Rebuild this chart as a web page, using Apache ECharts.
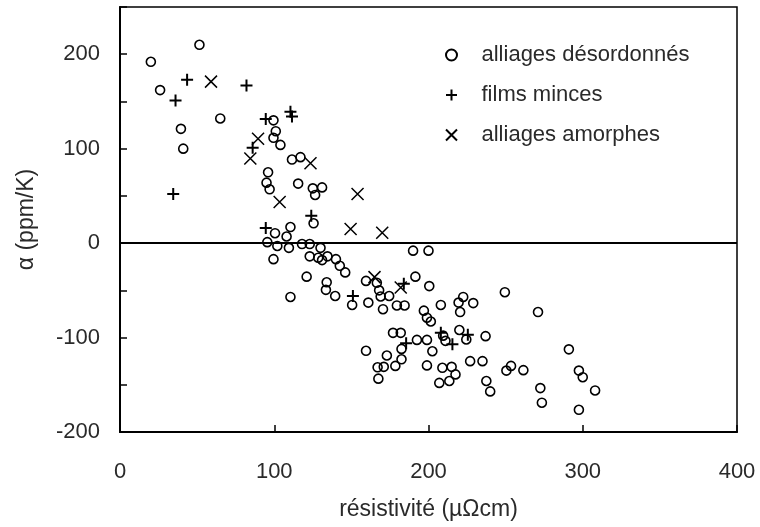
<!DOCTYPE html>
<html>
<head>
<meta charset="utf-8">
<script src="https://cdn.jsdelivr.net/npm/echarts@6/dist/echarts.min.js"></script>
<style>html,body{margin:0;padding:0;background:#fff;}#c{width:760px;height:527px;}</style>
</head>
<body>
<div id="c"></div>
<script>
// Series names
const seriesNames = ['alliages désordonnés', 'films minces', 'alliages amorphes'];
// Axis titles
const xTitle = 'résistivité (µΩcm)';
const yTitle = 'α (ppm/K)';
// Tick labels shown
const xTicks = [0, 100, 200, 300, 400];
const yTicks = [-200, -100, 0, 100, 200];

// [résistivité, α] — alliages désordonnés (circles)
const disordered = [
  [20,192],[51.5,210],[26,162],[39.5,121],[41,100],[65,132],
  [99.5,130],[101,118.5],[99.5,111.5],[104,104],[111.5,88.5],[117,91],[96,75],[115.5,63],[95,64],[97,57],[125,58],[131,59],[126.5,51],[125.5,21],[110.5,17],
  [100.5,10.5],[108,7],[95.5,1],[102,-3],[109.5,-5],[99.5,-17],[118,-1],[123,-1],[123,-14],[130,-5],[128.5,-15.5],[131,-18],[134.5,-14],[140,-17],[142.5,-24],[146,-31],[121,-35.5],[134,-41.5],[133.5,-49.5],[139.5,-56],[110.5,-57],
  [150.5,-65.5],[159.5,-40],[161,-63],[166.5,-42],[168,-50],[169,-56.5],[170.5,-70],[174.5,-56],[179.5,-66],[184.5,-66],[191.5,-35.5],[200.5,-45.5],[190,-8],[200,-8],[197,-71.5],[199,-79],[201.5,-83],[208,-65.5],[219.5,-63],[220.5,-73],[222.5,-57],[229,-63.5],[249.5,-52],[271,-73],
  [177,-95],[182,-95],[192.5,-102.5],[199,-102.5],[209.5,-98],[211,-103.5],[220,-92],[224.5,-102],[237,-98.5],
  [159.5,-114],[173,-119],[182.5,-112],[182.5,-123],[202.5,-114.5],
  [167,-131.5],[171,-131],[178.5,-130],[167.5,-143.5],[199,-129.5],[209,-132],[215,-131],[217.5,-139],[207,-148],[213.5,-146],
  [227,-125],[235,-125],[237.5,-146],[240,-157],[250.5,-135],[253.5,-130],[261.5,-134.5],[272.5,-153.5],[273.5,-169],[291,-112.5],[297.5,-135],[300,-142],[308,-156],[297.5,-176.5]
];
// films minces (plus)
const thinFilms = [
  [36,151],[43.5,173],[34.5,52],[82,167],[86,101],[94.5,131.5],[110.5,139],[111.5,134],[94.5,16],[124,29],[151,-56],[184,-43],[185.5,-106],[208,-95],[215.5,-107],[225.5,-97]
];
// alliages amorphes (cross)
const amorphous = [
  [59,171],[89.5,110.5],[84.5,89.5],[123.5,84.5],[103.5,43.5],[154,52],[149.5,15],[170,11],[165,-36],[182,-47]
];

const FONT = '"Liberation Sans", Arial, sans-serif';
const TXT = '#2a2a2a';

const chart = echarts.init(document.getElementById('c'), null, {renderer: 'canvas'});
chart.setOption({
  animation: false,
  backgroundColor: '#fff',
  grid: {left: 120, right: 23, top: 7, bottom: 95, show: true, borderColor: '#000', borderWidth: 1.5},
  legend: {
    orient: 'vertical', left: 440, top: 39, itemWidth: 50, itemHeight: 11, itemGap: 18,
    textStyle: {fontSize: 22, color: TXT, fontFamily: FONT},
    data: seriesNames
  },
  xAxis: {
    type: 'value', min: 0, max: 400, interval: 100,
    axisLine: {show: true, onZero: false, lineStyle: {color: '#000', width: 2}},
    axisTick: {show: true, inside: true, length: 7, lineStyle: {color: '#000', width: 1.5}},
    splitLine: {show: false},
    axisLabel: {margin: 29, fontSize: 22, color: TXT, fontFamily: FONT,
      formatter: v => xTicks.includes(v) ? String(v) : ''},
    name: xTitle, nameLocation: 'middle', nameGap: 66,
    nameTextStyle: {fontSize: 23, color: TXT, fontFamily: FONT}
  },
  yAxis: {
    type: 'value', min: -200, max: 250, interval: 50,
    axisLine: {show: true, onZero: false, lineStyle: {color: '#000', width: 2}},
    axisTick: {show: true, inside: true, length: 7, lineStyle: {color: '#000', width: 1.5}},
    splitLine: {show: false},
    axisLabel: {margin: 20, fontSize: 22, color: TXT, fontFamily: FONT,
      formatter: v => yTicks.includes(v) ? String(v) : ''},
    name: yTitle, nameLocation: 'middle', nameGap: 82,
    nameTextStyle: {fontSize: 23, color: TXT, fontFamily: FONT}
  },
  series: [
    {
      name: seriesNames[0], type: 'scatter', data: disordered,
      symbol: 'circle', symbolSize: 9, symbolKeepAspect: true,
      itemStyle: {color: 'rgba(0,0,0,0)', borderColor: '#000', borderWidth: 1.6, opacity: 1},
      markLine: {
        silent: true, symbol: 'none', label: {show: false},
        lineStyle: {color: '#000', width: 2, type: 'solid'},
        data: [{yAxis: 0}]
      }
    },
    {
      name: seriesNames[1], type: 'scatter', data: thinFilms,
      symbol: 'path://M5 0 L5 10 M0 5 L10 5', symbolSize: 12, symbolKeepAspect: true,
      itemStyle: {color: 'rgba(0,0,0,0)', borderColor: '#000', borderWidth: 2, opacity: 1}
    },
    {
      name: seriesNames[2], type: 'scatter', data: amorphous,
      symbol: 'path://M0 0 L10 10 M10 0 L0 10', symbolSize: 12, symbolKeepAspect: true,
      itemStyle: {color: 'rgba(0,0,0,0)', borderColor: '#000', borderWidth: 1.5, opacity: 1}
    }
  ]
});
</script>
</body>
</html>
